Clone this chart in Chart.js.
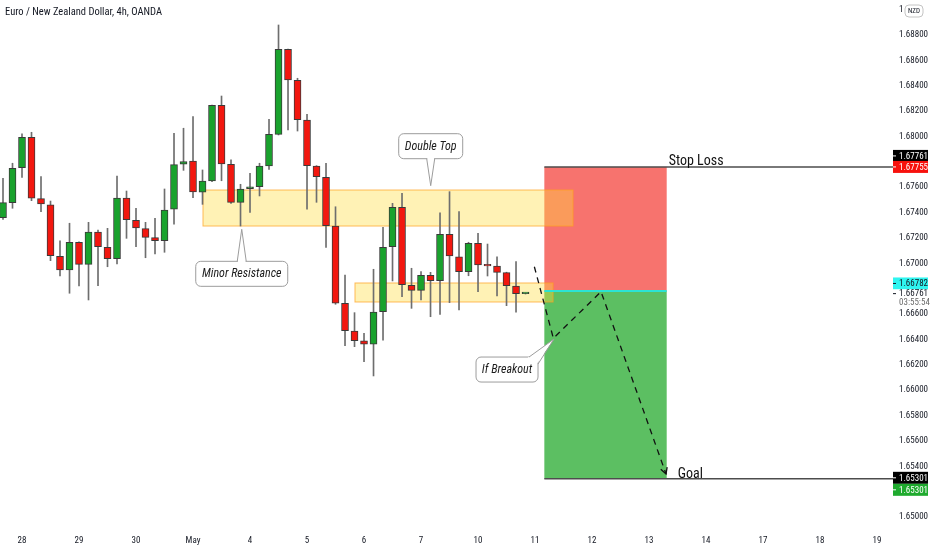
<!DOCTYPE html>
<html>
<head>
<meta charset="utf-8">
<title>Euro / New Zealand Dollar, 4h</title>
<script src="https://cdn.jsdelivr.net/npm/chart.js@4.4.1/dist/chart.umd.min.js"></script>
<style>
  html, body { margin: 0; padding: 0; background: #fff; }
  #wrap { width: 932px; height: 550px; }
</style>
</head>
<body>
<div id="wrap"><canvas id="myChart" width="932" height="550"></canvas></div>
<script>
// EUR/NZD 4h candles
const opens = [1.67360, 1.67478, 1.67754, 1.67994, 1.67510, 1.67462, 1.67055, 1.66947, 1.67166, 1.66992,
  1.67247, 1.67126, 1.67036, 1.67515, 1.67339, 1.67273, 1.67202, 1.67178, 1.67426, 1.67781,
  1.67807, 1.67560, 1.67649, 1.68246, 1.67781, 1.67481, 1.67588, 1.67604, 1.67767, 1.68017,
  1.68687, 1.68443, 1.68130, 1.67767, 1.67678, 1.67294, 1.66685, 1.66466, 1.66388, 1.66362,
  1.66619, 1.67131, 1.67442, 1.66827, 1.66787, 1.66906, 1.66863, 1.67229, 1.67052, 1.66934,
  1.67158, 1.66981, 1.66979, 1.66926, 1.66821, 1.66761];
const highs = [1.67670, 1.67789, 1.68020, 1.68033, 1.67683, 1.67491, 1.67178, 1.67316, 1.67170, 1.67323,
  1.67263, 1.67276, 1.67688, 1.67570, 1.67434, 1.67323, 1.67355, 1.67586, 1.68025, 1.68065,
  1.68156, 1.67736, 1.68248, 1.68319, 1.67815, 1.67623, 1.67710, 1.67789, 1.68136, 1.68879,
  1.68690, 1.68459, 1.68175, 1.67770, 1.67789, 1.67446, 1.66908, 1.66611, 1.66448, 1.66953,
  1.67284, 1.67473, 1.67552, 1.66961, 1.66934, 1.66929, 1.67399, 1.67565, 1.67407, 1.67166,
  1.67237, 1.67152, 1.67052, 1.66930, 1.67013, 1.66765];
const lows = [1.67347, 1.67434, 1.67678, 1.67494, 1.67407, 1.67021, 1.66900, 1.66764, 1.66821, 1.66711,
  1.66824, 1.66973, 1.66995, 1.67197, 1.67131, 1.67044, 1.67074, 1.67087, 1.67308, 1.67733,
  1.67517, 1.67465, 1.67644, 1.67651, 1.67473, 1.67294, 1.67402, 1.67531, 1.67741, 1.68012,
  1.68051, 1.68043, 1.67426, 1.67481, 1.67126, 1.66677, 1.66351, 1.66343, 1.66224, 1.66112,
  1.66395, 1.66861, 1.66737, 1.66645, 1.66711, 1.66579, 1.66598, 1.66690, 1.66632, 1.66902,
  1.66776, 1.66900, 1.66742, 1.66666, 1.66614, 1.66758];
const closes = [1.67478, 1.67749, 1.67994, 1.67513, 1.67468, 1.67060, 1.66947, 1.67166, 1.66992, 1.67247,
  1.67131, 1.67036, 1.67515, 1.67344, 1.67279, 1.67205, 1.67178, 1.67420, 1.67778, 1.67803,
  1.67562, 1.67649, 1.68246, 1.67783, 1.67481, 1.67586, 1.67604, 1.67767, 1.68017, 1.68687,
  1.68445, 1.68132, 1.67770, 1.67683, 1.67297, 1.66685, 1.66469, 1.66390, 1.66362, 1.66616,
  1.67126, 1.67442, 1.66831, 1.66787, 1.66906, 1.66863, 1.67229, 1.67058, 1.66934, 1.67158,
  1.66987, 1.66980, 1.66929, 1.66824, 1.66761, 1.66761];

// time axis: one label per trading day, at the candle index where the day starts
const dayLabels = ['28', '29', '30', 'May', '4', '5', '6', '7', '10', '11', '12', '13', '14', '17', '18', '19'];
const dayStart = [2, 8, 14, 20, 26, 32, 38, 44, 50, 56, 62, 68, 74, 80, 86, 92];

// price axis
const priceTicks = [1.650, 1.652, 1.654, 1.656, 1.658, 1.660, 1.662, 1.664, 1.666, 1.668, 1.670,
  1.672, 1.674, 1.676, 1.678, 1.680, 1.682, 1.684, 1.686, 1.688, 1.690];

// drawings, in candle index / price
const resistanceZone = [21.05, 60.0, 1.67578, 1.67294]; // from, to, top, bottom
const supportZone = [37.05, 57.9, 1.66845, 1.66695];
const positionSpan = [56.98, 69.86];
const stopLoss = 1.67760;
const entryPrice = 1.66782;
const goalPrice = 1.65301;
const lastPrice = 1.66761;
const breakoutPath = [[55.93, 1.66973], [57.93, 1.66409], [62.95, 1.66776], [69.79, 1.65339]];
const calloutText = ['Double Top', 'Minor Resistance', 'If Breakout'];
const calloutTip = [[45.02, 1.67612], [25.13, 1.67268], [58.0, 1.66403]];

const NARROW = '"Liberation Sans Narrow", "Roboto Condensed", "DejaVu Sans Condensed", Roboto, sans-serif';

const idx = opens.map((_, i) => i);
const bodies = idx.map(i => ({ x: i, y: [opens[i], closes[i]] }));
const wicks = idx.map(i => ({ x: i, y: [lows[i], highs[i]] }));
const bodyColors = idx.map(i => closes[i] >= opens[i] ? '#19A22D' : '#F2170F');

function callout(ctx, text, tx, ty, side) {
  ctx.font = 'italic 12px ' + NARROW;
  const w = Math.round(ctx.measureText(text).width) + 12, h = 25;
  let bx, by, b1, b2;
  if (side === 'above') { bx = tx - w / 2; by = ty - 27 - h; b1 = [tx - 4, by + h]; b2 = [tx + 4, by + h]; }
  else if (side === 'below') { bx = tx - w / 2; by = ty + 32; b1 = [tx - 4.5, by]; b2 = [tx + 4.5, by]; }
  else { bx = tx - 16 - w; by = ty + 18; b1 = [bx + w - 9, by]; b2 = [bx + w, by + 7]; }
  ctx.beginPath();
  ctx.roundRect(bx, by, w, h, 5);
  ctx.fillStyle = '#fff';
  ctx.fill();
  ctx.strokeStyle = '#9c9c9c';
  ctx.lineWidth = 1;
  ctx.stroke();
  // tail: cover the border under it, then outline the two sides
  const cx = bx + w / 2, cy = by + h / 2;
  const inset = p => { const dx = cx - p[0], dy = cy - p[1], d = Math.hypot(dx, dy); return [p[0] + dx / d * 1.5, p[1] + dy / d * 1.5]; };
  const i1 = inset(b1), i2 = inset(b2);
  ctx.beginPath();
  ctx.moveTo(i1[0], i1[1]); ctx.lineTo(tx, ty); ctx.lineTo(i2[0], i2[1]); ctx.closePath();
  ctx.fill();
  ctx.beginPath();
  ctx.moveTo(b1[0], b1[1]); ctx.lineTo(tx, ty); ctx.lineTo(b2[0], b2[1]);
  ctx.stroke();
  ctx.fillStyle = '#1c1c1c';
  ctx.textAlign = 'center';
  ctx.textBaseline = 'middle';
  ctx.fillText(text, cx, cy + 0.5);
}

function zone(ctx, x, y, z) {
  const x0 = x.getPixelForValue(z[0]), x1 = x.getPixelForValue(z[1]);
  const y0 = y.getPixelForValue(z[2]), y1 = y.getPixelForValue(z[3]);
  ctx.fillStyle = 'rgba(255, 222, 60, 0.38)';
  ctx.fillRect(x0, y0, x1 - x0, y1 - y0);
  ctx.strokeStyle = 'rgba(255, 160, 30, 0.7)';
  ctx.lineWidth = 1;
  ctx.strokeRect(x0, y0, x1 - x0, y1 - y0);
}

function badge(ctx, text, cy, bg, fg) {
  ctx.fillStyle = bg;
  ctx.fillRect(893, cy - 6, 35, 12);
  ctx.fillStyle = fg;
  ctx.fillRect(893, cy - 0.5, 3, 1);
  ctx.font = '9px ' + NARROW;
  ctx.textAlign = 'left';
  ctx.textBaseline = 'middle';
  ctx.fillText(text, 899, cy + 0.5);
}

const drawings = {
  id: 'drawings',
  beforeDatasetsDraw(chart) {
    const ctx = chart.ctx, x = chart.scales.x, y = chart.scales.y;
    const x0 = x.getPixelForValue(positionSpan[0]), x1 = x.getPixelForValue(positionSpan[1]);
    const ys = y.getPixelForValue(stopLoss), ye = y.getPixelForValue(entryPrice), yg = y.getPixelForValue(goalPrice);
    ctx.save();
    ctx.fillStyle = '#F7736E'; // risk
    ctx.fillRect(x0, ys, x1 - x0, ye - ys);
    ctx.fillStyle = '#5CBF62'; // reward
    ctx.fillRect(x0, ye, x1 - x0, yg - ye);
    zone(ctx, x, y, resistanceZone);
    zone(ctx, x, y, supportZone);
    ctx.restore();
  },
  afterDatasetsDraw(chart) {
    const ctx = chart.ctx, x = chart.scales.x, y = chart.scales.y;
    const x0 = x.getPixelForValue(positionSpan[0]), x1 = x.getPixelForValue(positionSpan[1]);
    const right = chart.chartArea.right;
    ctx.save();
    // entry line
    ctx.strokeStyle = '#2BE3D3';
    ctx.lineWidth = 2;
    ctx.beginPath();
    ctx.moveTo(x0, y.getPixelForValue(entryPrice)); ctx.lineTo(x1, y.getPixelForValue(entryPrice));
    ctx.stroke();
    // stop loss and goal lines
    ctx.strokeStyle = '#4d4d4d';
    ctx.lineWidth = 1.5;
    [stopLoss, goalPrice].forEach(p => {
      ctx.beginPath();
      ctx.moveTo(x0, y.getPixelForValue(p)); ctx.lineTo(right, y.getPixelForValue(p));
      ctx.stroke();
    });
    ctx.fillStyle = '#111';
    ctx.font = '14px ' + NARROW;
    ctx.textAlign = 'left';
    ctx.textBaseline = 'alphabetic';
    ctx.fillText('Stop Loss', x1 + 2, y.getPixelForValue(stopLoss) - 2);
    ctx.fillText('Goal', x1 + 11, y.getPixelForValue(goalPrice) - 1);
    // projected path
    const pts = breakoutPath.map(p => [x.getPixelForValue(p[0]), y.getPixelForValue(p[1])]);
    ctx.strokeStyle = '#111';
    ctx.lineWidth = 1.3;
    ctx.setLineDash([6, 5]);
    ctx.beginPath();
    pts.forEach((p, i) => i ? ctx.lineTo(p[0], p[1]) : ctx.moveTo(p[0], p[1]));
    ctx.stroke();
    ctx.setLineDash([]);
    const e = pts[pts.length - 1], s = pts[pts.length - 2];
    const a = Math.atan2(e[1] - s[1], e[0] - s[0]);
    ctx.beginPath();
    ctx.moveTo(e[0] - 7 * Math.cos(a - 0.5), e[1] - 7 * Math.sin(a - 0.5));
    ctx.lineTo(e[0], e[1]);
    ctx.lineTo(e[0] - 7 * Math.cos(a + 0.5), e[1] - 7 * Math.sin(a + 0.5));
    ctx.stroke();
    // callouts
    const sides = ['above', 'below', 'left'];
    calloutText.forEach((t, i) => {
      callout(ctx, t, x.getPixelForValue(calloutTip[i][0]), y.getPixelForValue(calloutTip[i][1]), sides[i]);
    });
    ctx.restore();
  },
  afterDraw(chart) {
    const ctx = chart.ctx, y = chart.scales.y;
    ctx.save();
    // title
    ctx.fillStyle = '#131722';
    ctx.font = '10.5px ' + NARROW;
    ctx.textAlign = 'left';
    ctx.textBaseline = 'middle';
    ctx.fillText('Euro / New Zealand Dollar, 4h, OANDA', 5, 12);
    // currency badge over the top price label
    ctx.fillStyle = '#fff';
    ctx.fillRect(904, 2, 28, 16);
    ctx.beginPath();
    ctx.roundRect(905, 5, 18, 12, 4);
    ctx.fill();
    ctx.strokeStyle = '#c4c4c4';
    ctx.lineWidth = 1;
    ctx.stroke();
    ctx.fillStyle = '#131722';
    ctx.font = '7px ' + NARROW;
    ctx.textAlign = 'center';
    ctx.fillText('NZD', 914, 11.5);
    // price labels on the axis
    const ys = y.getPixelForValue(stopLoss), ye = y.getPixelForValue(entryPrice), yg = y.getPixelForValue(goalPrice);
    badge(ctx, '1.67761', ys - 11, '#000', '#fff');
    badge(ctx, '1.67755', ys, '#F7110D', '#fff');
    badge(ctx, entryPrice.toFixed(5), ye - 7.5, '#2FF5F0', '#131722');
    const yl = y.getPixelForValue(lastPrice);
    ctx.fillStyle = '#fff';
    ctx.fillRect(893, ye - 1.5, 39, 18);
    ctx.fillStyle = '#131722';
    ctx.fillRect(893, yl - 0.5, 3, 1);
    ctx.font = '9px ' + NARROW;
    ctx.textAlign = 'left';
    ctx.fillText(lastPrice.toFixed(5), 899, yl + 0.5);
    ctx.fillStyle = '#6b6b6b';
    ctx.fillText('03:55:54', 899, yl + 9.5);
    badge(ctx, goalPrice.toFixed(5), yg - 1, '#000', '#fff');
    badge(ctx, goalPrice.toFixed(5), yg + 11, '#1FAA2E', '#fff');
    ctx.restore();
  }
};

const ctx = document.getElementById('myChart').getContext('2d');
const chart = new Chart(ctx, {
  type: 'bar',
  data: {
    datasets: [{
      label: 'body',
      data: bodies,
      backgroundColor: bodyColors,
      borderColor: '#3a3a3a',
      borderWidth: 1,
      borderSkipped: false,
      barThickness: 7,
      minBarLength: 1.5,
      grouped: false,
      order: 1
    }, {
      label: 'wick',
      data: wicks,
      backgroundColor: '#6e6e6e',
      borderWidth: 0,
      barThickness: 1,
      grouped: false,
      order: 2
    }]
  },
  options: {
    responsive: false,
    animation: false,
    events: [],
    layout: { padding: 0 },
    plugins: { legend: { display: false }, tooltip: { enabled: false } },
    scales: {
      x: {
        type: 'linear',
        min: -0.316,
        max: 93.68,
        offset: false,
        grid: { display: false, drawTicks: false },
        border: { display: false },
        afterBuildTicks: s => { s.ticks = dayStart.map(v => ({ value: v })); },
        afterFit: s => { s.height = 24; s.paddingLeft = 0; s.paddingRight = 0; },
        ticks: {
          autoSkip: false,
          maxRotation: 0,
          padding: 9,
          color: '#131722',
          font: { family: NARROW, size: 9 },
          callback: (v, i) => dayLabels[i]
        }
      },
      y: {
        position: 'right',
        min: 1.64929,
        max: 1.69076,
        grid: { display: false, drawTicks: false },
        border: { display: false },
        afterBuildTicks: s => { s.ticks = priceTicks.map(v => ({ value: v })); },
        afterFit: s => { s.width = 39; s.paddingTop = 0; s.paddingBottom = 0; },
        ticks: {
          padding: 6,
          color: '#131722',
          font: { family: NARROW, size: 9 },
          callback: v => v.toFixed(5)
        }
      }
    }
  },
  plugins: [drawings]
});
</script>
</body>
</html>
